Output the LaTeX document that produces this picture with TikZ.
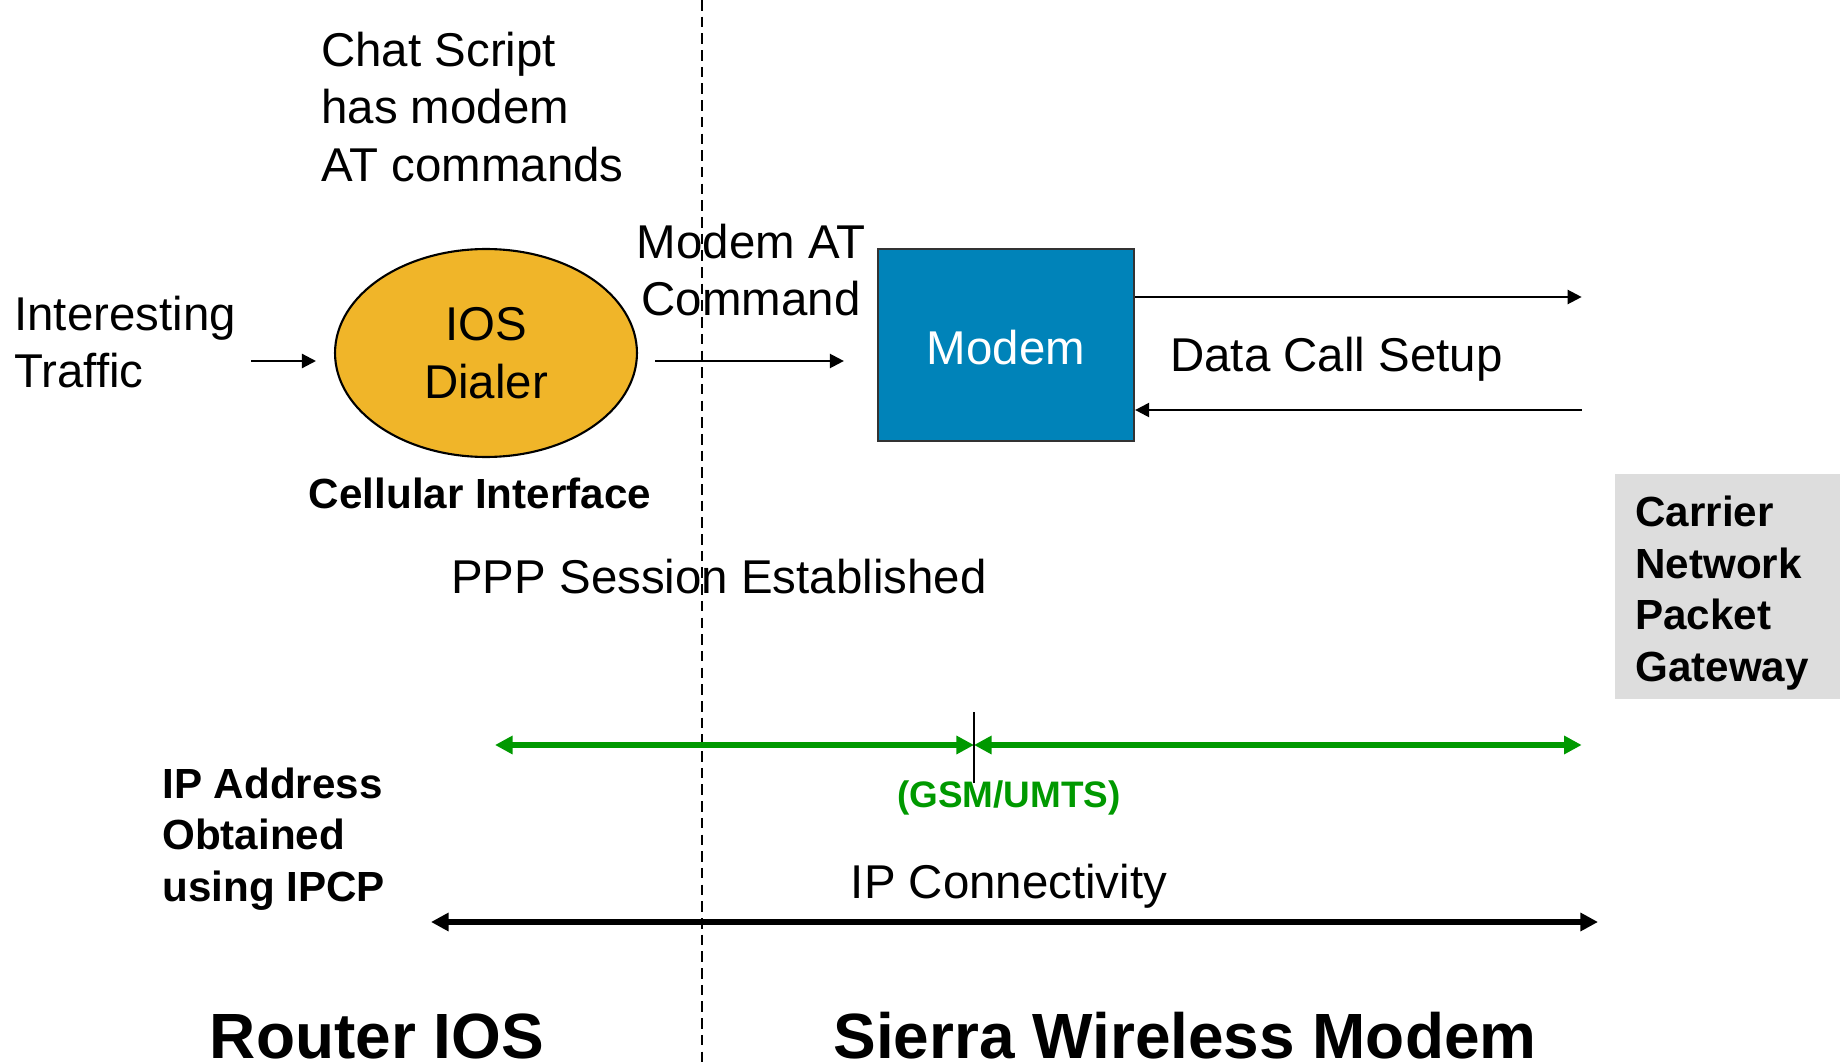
\documentclass[tikz,border=0pt]{standalone}
\usepackage{fontspec}
\setmainfont{Liberation Sans}
\usetikzlibrary{shapes.geometric}
\usetikzlibrary{arrows.meta}
\usetikzlibrary{positioning}
\usepackage{xcolor}
\definecolor{dialerorange}{RGB}{240,181,41}
\definecolor{modemblue}{RGB}{0,131,185}
\definecolor{gwgray}{RGB}{221,221,221}
\definecolor{gsmgreen}{RGB}{0,153,0}

\tikzset{
  txt/.style={inner sep=0pt, font=\fontsize{27}{32.7}\selectfont},
  lbl/.style={inner sep=0pt, font=\fontsize{24}{29.4}\selectfont\bfseries},
  side/.style={inner sep=0pt, font=\fontsize{36.4}{40}\selectfont\bfseries},
  flow/.style={line width=1.3pt, -{Triangle[length=8pt,width=8pt]}},
  span/.style={line width=3pt, {Triangle[length=10pt,width=10pt]}-{Triangle[length=10pt,width=10pt]}},
  divider/.style={line width=1.1pt, dash pattern=on 6pt off 3.5pt},
}

\begin{document}
\begin{tikzpicture}[x=0.02cm,y=-0.02cm]
\useasboundingbox (0,0) rectangle (1840,1064);
\draw[divider] (702,0)--(702,1064);

\node[txt, anchor=west, align=left] (chat) at (321,107) {Chat Script\\has modem\\AT commands};
\node[txt, anchor=west, align=left] (traffic) at (14,342) {Interesting\\Traffic};
\node[txt, ellipse, draw, line width=1.2pt, fill=dialerorange, align=center,
      minimum width=6.04cm, minimum height=4.16cm] (dialer) at (486,353) {IOS\\Dialer};
\node[lbl, below=0.40cm of dialer, xshift=-0.12cm] (cell) {Cellular Interface};
\node[txt, align=center] (atcmd) at (751,270) {Modem AT\\Command};
\node[txt, draw=black!80, line width=1.3pt, fill=modemblue, text=white,
      minimum width=5.12cm, minimum height=3.84cm] (modem) at (1006,345) {};
\node[txt, text=white] (modemtxt) at (1006,348) {Modem};
\node[txt, anchor=west] (setup) at (1170,359) {Data Call Setup};
\node[fill=gwgray, minimum width=4.5cm, minimum height=4.5cm, inner sep=0pt] (gwbox) at (1727.5,586.5) {};
\node[lbl, anchor=west, align=left] (gateway) at (1635,593) {Carrier\\Network\\Packet\\Gateway};
\node[txt] (ppp) at (719,577) {PPP Session Established};
\node[lbl, text=gsmgreen, font=\fontsize{21}{25}\selectfont\bfseries] (gsm) at (1009,798) {(GSM/UMTS)};
\node[lbl, anchor=west, align=left] (ipcp) at (162,839) {IP Address\\Obtained\\using IPCP};
\node[txt] (ipconn) at (1009,886) {IP Connectivity};
\node[side, anchor=base] (router) at (377,1058) {Router IOS};
\node[side, anchor=base] (sierra) at (1185,1058) {Sierra Wireless Modem};

\coordinate (cmdrow) at (0,361);
\coordinate (uprow) at (0,297);
\coordinate (downrow) at (0,410);
\coordinate (gsmA) at (495,745);
\coordinate (gsmB) at (974,745);
\coordinate (ipA) at (431,922);
\coordinate (ipB) at (1598,922);

\draw[flow, shorten <=0.3cm, shorten >=0.36cm] (traffic.east |- cmdrow)--(dialer.west |- cmdrow);
\draw[flow, shorten <=0.34cm, shorten >=0.66cm] (dialer.east |- cmdrow)--(modem.west |- cmdrow);
\draw[flow, shorten >=0.66cm] (modem.east |- uprow)--(gwbox.west |- uprow);
\draw[flow, shorten <=0.66cm] (gwbox.west |- downrow)--(modem.east |- downrow);

\draw[span, gsmgreen] (gsmA)--(gsmB);
\draw[span, gsmgreen, shorten >=0.66cm] (gsmB)--(gwbox.west |- gsmB);
\draw[line width=1.2pt] (gsmB) ++(0,-33)--++(0,71);
\draw[span] (ipA)--(ipB);
\end{tikzpicture}
\end{document}
